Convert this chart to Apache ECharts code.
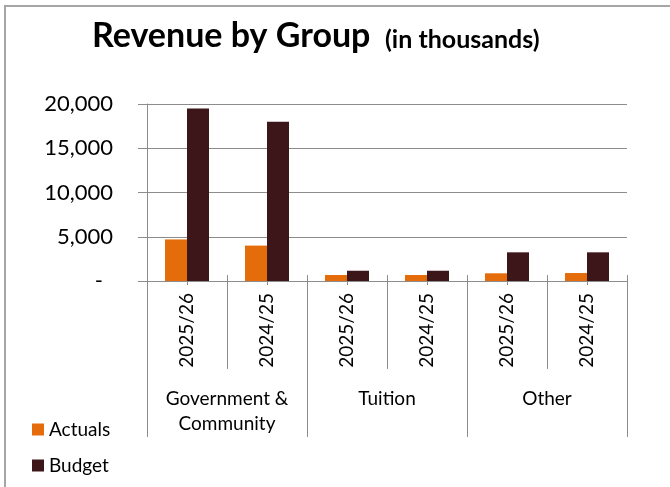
<!DOCTYPE html>
<html>
<head>
<meta charset="utf-8">
<script src="https://cdn.jsdelivr.net/npm/echarts@6/dist/echarts.min.js"></script>
<style>
  html, body { margin: 0; padding: 0; background: #fff; }
  #chart { width: 670px; height: 487px; }
</style>
</head>
<body>
<div id="chart"></div>
<script>
// Revenue by group, actuals vs budget (in thousands)
const groups = ['Government &\nCommunity', 'Tuition', 'Other'];
const years = ['2025/26', '2024/25', '2025/26', '2024/25', '2025/26', '2024/25'];
const actuals = [4700, 4000, 680, 680, 870, 900];
const budget = [19500, 18000, 1160, 1160, 3240, 3240];
const yTicks = [0, 5000, 10000, 15000, 20000];

const FONT = 'Lato, "Open Sans", sans-serif';
const LINE = '#8c8c8c';
const ORANGE = '#e46c0a';
const MAROON = '#3d161a';

const chart = echarts.init(document.getElementById('chart'), null, { renderer: 'canvas' });

const hiddenAxisBits = {
  axisLine: { show: false },
  axisLabel: { show: false },
  splitLine: { show: false }
};

// one single-entry legend per series, stacked in the lower-left corner
const legendEntry = (name, top) => ({
  orient: 'vertical',
  left: 32, top: top, padding: 0,
  itemWidth: 12, itemHeight: 12, itemGap: 5,
  icon: 'rect',
  textStyle: { fontFamily: FONT, fontSize: 19, color: '#000' },
  data: [name]
});

chart.setOption({
  animation: false,
  backgroundColor: '#fff',
  textStyle: { fontFamily: FONT, color: '#000' },
  graphic: [
    {
      type: 'rect', silent: true,
      shape: { x: 5, y: 6, width: 720, height: 540 },
      style: { fill: 'none', stroke: '#a6a6a6', lineWidth: 2 }
    },
    {
      type: 'text', left: 92, top: 19,
      style: { text: 'Revenue by Group', font: 'bold 34px ' + FONT, fill: '#000' }
    },
    {
      type: 'text', left: 385, top: 27,
      style: { text: '(in thousands)', font: 'bold 25px ' + FONT, fill: '#000' }
    }
  ],
  legend: [legendEntry('Actuals', 420), legendEntry('Budget', 456)],
  grid: { left: 147, right: 43, top: 104, bottom: 206, containLabel: false },
  yAxis: {
    type: 'value',
    min: yTicks[0], max: yTicks[yTicks.length - 1], interval: yTicks[1] - yTicks[0],
    axisLine: { show: true, lineStyle: { color: LINE, width: 1 } },
    axisTick: { show: true, inside: false, length: 9, lineStyle: { color: LINE, width: 1 } },
    splitLine: { show: true, lineStyle: { color: LINE, width: 1 } },
    axisLabel: {
      margin: 34, fontSize: 22, fontFamily: FONT, color: '#000',
      formatter: v => v === 0 ? '{d|-}' : v.toLocaleString('en-US'),
      rich: { d: { fontSize: 22, fontFamily: FONT, color: '#000', padding: [0, 10, 0, 0] } }
    }
  },
  xAxis: [
    {
      type: 'category', data: years, position: 'bottom',
      axisLine: { show: true, lineStyle: { color: LINE, width: 1 } },
      axisTick: { show: true, length: 88, lineStyle: { color: LINE, width: 1 } },
      axisLabel: { rotate: 90, margin: 12, fontSize: 19, fontFamily: FONT, color: '#000', interval: 0 },
      splitLine: { show: false }
    },
    {
      type: 'category', data: groups, position: 'bottom',
      axisLine: { show: false },
      axisTick: { show: true, length: 156, lineStyle: { color: LINE, width: 1 } },
      axisLabel: { margin: 105, fontSize: 19, lineHeight: 25, fontFamily: FONT, color: '#000', interval: 0 },
      splitLine: { show: false }
    },
    Object.assign({
      type: 'category', data: years, position: 'bottom',
      axisTick: { show: true, inside: true, length: 6, lineStyle: { color: LINE, width: 1 } }
    }, hiddenAxisBits),
    Object.assign({
      type: 'category', data: years, position: 'bottom',
      axisTick: { show: true, alignWithLabel: true, length: 4, lineStyle: { color: LINE, width: 1 } }
    }, hiddenAxisBits)
  ],
  series: [
    {
      name: 'Actuals', type: 'bar', xAxisIndex: 0, data: actuals,
      barWidth: 22, barGap: '0%',
      itemStyle: { color: ORANGE }
    },
    {
      name: 'Budget', type: 'bar', xAxisIndex: 0, data: budget,
      barWidth: 22, barGap: '0%',
      itemStyle: { color: MAROON }
    }
  ]
});
</script>
</body>
</html>
